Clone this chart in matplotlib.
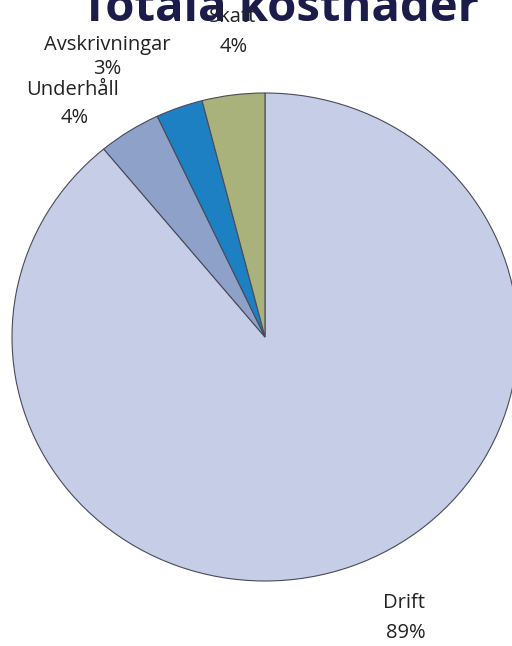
import matplotlib.pyplot as plt

# data
labels = ["Drift", "Underhåll", "Avskrivningar", "Skatt"]
shares = [89, 4, 3, 4]
colors = ["#c6cde6", "#8ea2c9", "#1c80c2", "#a9b27b"]

# label positions in pixels (x, y of name line / value line)
label_pos = {
    "Drift": ((404, 603), (406, 633)),
    "Underhåll": ((73, 90), (75, 118)),
    "Avskrivningar": ((107, 45), (107, 69)),
    "Skatt": ((233, 17), (234, 47)),
}

W, H = 512, 646
fig = plt.figure(figsize=(W / 100, H / 100), dpi=100)
fig.patch.set_facecolor("white")

# pie box in pixels: center (265, 337), rx 253, ry 244
cx, cy, rx, ry = 265, 337, 253, 244
ax = fig.add_axes([(cx - rx) / W, 1 - (cy + ry) / H, 2 * rx / W, 2 * ry / H])
ax.pie(shares, colors=colors, startangle=90, counterclock=False,
       wedgeprops=dict(edgecolor="#4a4a5a", linewidth=0.8))
ax.set_aspect("auto")
ax.set_xlim(-1, 1)
ax.set_ylim(-1, 1)
ax.axis("off")

def px(x, y):
    return x / W, 1 - y / H

# title (top is cut off in the original)
fig.text(*px(280, 21), "Totala kostnader", ha="center", va="baseline",
         fontsize=34, fontweight="bold", color="#1c1c4a", family="Open Sans")

for name, share in zip(labels, shares):
    (x1, y1), (x2, y2) = label_pos[name]
    fig.text(*px(x1, y1), name, ha="center", va="center", fontsize=14.5,
             color="#222222", family="Open Sans")
    fig.text(*px(x2, y2), f"{share}%", ha="center", va="center", fontsize=14.5,
             color="#222222", family="Open Sans")

fig.savefig("out.png", dpi=100, facecolor="white")
